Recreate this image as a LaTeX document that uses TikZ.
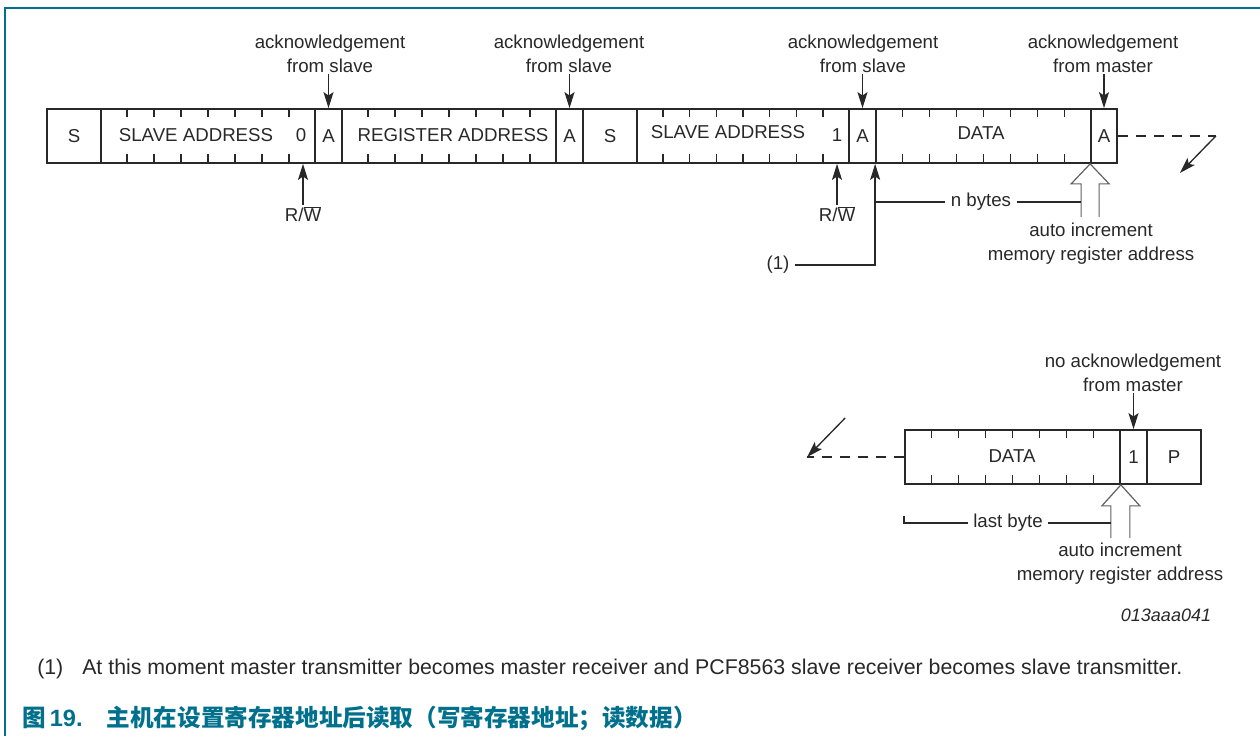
\documentclass[tikz,border=0pt]{standalone}
\usepackage{fontspec}
\setmainfont{Liberation Sans}
\newfontfamily\cjk{Noto Sans CJK SC}
\usetikzlibrary{arrows.meta,calc}
\definecolor{figteal}{RGB}{0,112,140}
\definecolor{ink}{RGB}{40,40,40}
\newcommand\lblfont{\fontsize{14}{18}\selectfont}
\tikzset{
  cell/.style={draw=ink, line width=1.3pt, minimum height=40.5pt, inner sep=0pt, font=\lblfont, text=ink},
  lbl/.style={font=\lblfont, text=ink, inner sep=1pt, align=center},
  arr/.style={draw=ink, line width=1pt, -{Stealth[length=12pt,width=7.5pt,inset=2.5pt]}},
  lin/.style={draw=ink, line width=1pt},
  tick/.style={draw=ink, line width=1pt},
  hollow/.style={draw=gray!75!black, line width=0.9pt, line join=miter},
  dsh/.style={draw=ink, line width=1.1pt, dash pattern=on 7.5pt off 6pt},
}
\begin{document}
\begin{tikzpicture}[x=0.75pt,y=-0.75pt]
\useasboundingbox (0,0) rectangle (1260,736);
% frame
\draw[figteal, line width=1.6pt] (1260,8) -- (5,8) -- (5,736);

% ---------- top row ----------
\node[cell, minimum width=40.5pt]   (s1)  at (74,136)     {S};
\node[cell, minimum width=160.5pt]  (sa1) at (208,136)    {};
\node[cell, minimum width=20.25pt]  (a1)  at (328.5,136)  {A};
\node[cell, minimum width=160.5pt]  (ra)  at (449,136)    {};
\node[cell, minimum width=20.25pt]  (a2)  at (569.5,136)  {A};
\node[cell, minimum width=40.5pt]   (s2)  at (610,136)    {S};
\node[cell, minimum width=159pt]    (sa2) at (743,136)    {};
\node[cell, minimum width=20.25pt]  (a3)  at (862.5,136)  {A};
\node[cell, minimum width=161.25pt] (dat) at (983.5,136)  {};
\node[cell, minimum width=19.5pt]   (a4)  at (1104,136)   {A};

\node[lbl] (sa1t) at (196,135) {SLAVE ADDRESS};
\node[lbl] (sa1b) at (301,135) {0};
\node[lbl] (rat)  at (453,135) {REGISTER ADDRESS};
\node[lbl] (sa2t) at (728,132) {SLAVE ADDRESS};
\node[lbl] (sa2b) at (837,135) {1};
\node[lbl] (datt) at (981,133) {DATA};

% ---------- bottom row ----------
\node[cell, minimum width=161.25pt] (dat2) at (1012.5,457) {};
\node[cell, minimum width=20.25pt]  (one)  at (1133.5,457) {1};
\node[cell, minimum width=40.5pt]   (pp)   at (1174,457)   {P};
\node[lbl] (dat2t) at (1012,456) {DATA};

% ticks
\foreach \f in {sa1,ra,sa2,dat,dat2}{
  \foreach \k in {1,...,7}{
    \draw[tick] ($(\f.north west)!\k/8!(\f.north east)$) -- ++(0,9);
    \draw[tick] ($(\f.south west)!\k/8!(\f.south east)$) -- ++(0,-10);
  }
}

% acknowledgement labels and arrows
\node[lbl] (k1) at (330,54)  {acknowledgement\\from slave};
\node[lbl] (k2) at (569,54)  {acknowledgement\\from slave};
\node[lbl] (k3) at (863,54)  {acknowledgement\\from slave};
\node[lbl] (k4) at (1103,54) {acknowledgement\\from master};
\node[lbl] (k5) at (1133,373) {no acknowledgement\\from master};
\draw[arr] (a1.north |- k1.south) -- (a1.north);
\draw[arr] (a2.north |- k2.south) -- (a2.north);
\draw[arr] (a3.north |- k3.south) -- (a3.north);
\draw[arr] (a4.north |- k4.south) -- (a4.north);
\draw[arr] (one.north |- k5.south) -- (one.north);

% R/W
\node[lbl] (rw1) at (303,214) {R/$\overline{\hbox{W}}$};
\node[lbl] (rw2) at (837,214) {R/$\overline{\hbox{W}}$};
\draw[arr] (rw1.north) -- (rw1.north |- sa1.south);
\draw[arr] (rw2.north) -- (rw2.north |- sa2.south);

% (1)
\node[lbl] (n1) at (778,265) {(1)};
\draw[arr] ([xshift=3pt]n1.east) -| (dat.south west);

% hollow arrows
\coordinate (h1) at (a4.south west);
\coordinate (h1l) at ($(h1)+(-9,0)$);
\draw[hollow] ($(h1)+(-9,53)$) -- ++(0,-33) -- ++(-10,0) -- (h1) -- ++(19,20) -- ++(-10,0) -- ++(0,33);
\coordinate (h2) at (dat2.south east);
\coordinate (h2l) at ($(h2)+(-10,0)$);
\draw[hollow] ($(h2)+(-10,53)$) -- ++(0,-32) -- ++(-9,0) -- (h2) -- ++(19,21) -- ++(-10,0) -- ++(0,32);

% n bytes
\node[lbl] (nb) at (981,202) {n bytes};
\draw[lin] ([xshift=-3pt]nb.west) -- (nb.west -| dat.south west);
\draw[lin] ([xshift=3pt]nb.east) -- (nb.east -| h1l);

% last byte
\node[lbl] (lb) at (1008,523) {last byte};
\draw[lin] ([xshift=-3pt]lb.west) -- (lb.west -| dat2.south west) -- ++(0,-7);
\draw[lin] ([xshift=3pt]lb.east) -- (lb.east -| h2l);

% auto increment labels
\node[lbl] (ai1) at (1091,244) {auto increment\\memory register address};
\node[lbl] (ai2) at (1120,564) {auto increment\\memory register address};

% continuation
\coordinate (c1) at ($(a4.east)+(98,0)$);
\draw[dsh] (a4.east) -- (c1);
\draw[arr] (c1) -- ++(-36,37);
\coordinate (c2) at ($(dat2.west)+(-97,0)$);
\draw[dsh] (dat2.west) -- (c2);
\draw[arr] ($(c2)+(38,-39)$) -- (c2);

% code
\node[font=\fontsize{13.5}{15}\selectfont\itshape, text=ink] (code) at (1166,615) {013aaa041};

% footnote
\node[font=\fontsize{16}{19}\selectfont, text=ink, anchor=base west, inner sep=0pt] (fnn) at (37,674) {(1)};
\node[font=\fontsize{16}{19}\selectfont, text=ink, anchor=base west, inner sep=0pt] (fnt) at (82,674) {At this moment master transmitter becomes master receiver and PCF8563 slave receiver becomes slave transmitter.};

% caption
\node[anchor=west, inner sep=0pt, text=figteal, font=\bfseries\fontsize{17.7}{20}\selectfont] (cap) at (22,718)
  {{\cjk 图}\,19.\hspace{18pt}{\cjk 主机在设置寄存器地址后读取（写寄存器地址；读数据）}};
\end{tikzpicture}
\end{document}
